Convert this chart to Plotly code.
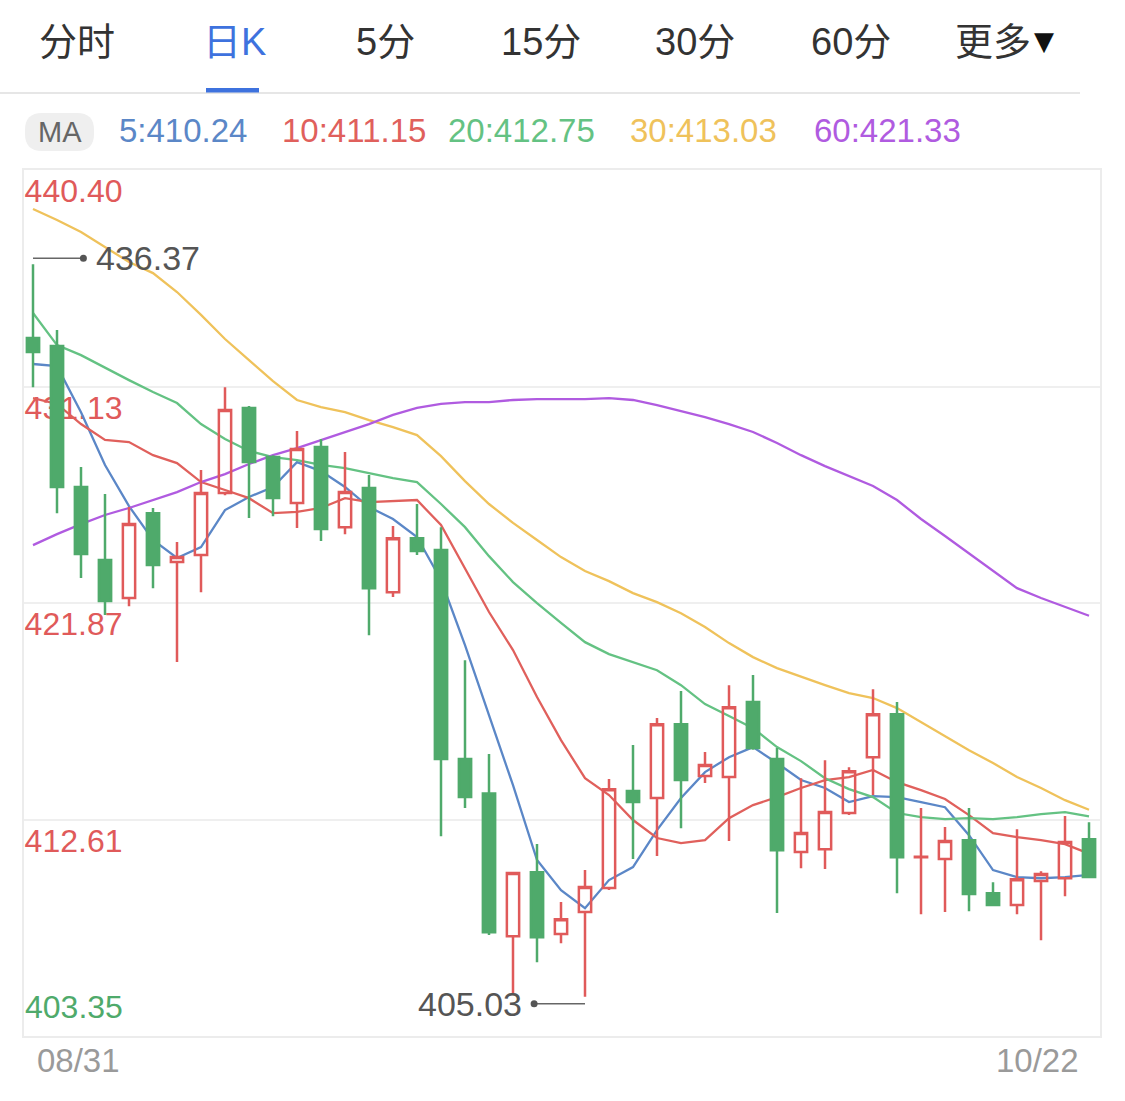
import plotly.graph_objects as go

# ---------------- data ----------------
opens = [433.21, 432.87, 426.84, 423.71, 422.09, 425.72, 423.63, 423.93, 426.58, 430.22,
         428.12, 426.15, 428.55, 425.12, 426.79, 422.34, 424.65, 424.14, 415.20, 413.72,
         407.62, 410.36, 407.71, 408.65, 409.68, 413.83, 413.53, 416.69, 414.47, 414.43,
         417.64, 415.20, 411.22, 411.34, 412.89, 415.28, 417.12, 411.00, 410.92, 411.73,
         409.46, 408.95, 409.98, 410.10, 411.77]
highs = [436.37, 433.55, 427.69, 426.54, 425.98, 425.94, 424.48, 427.56, 431.11, 430.30,
         428.20, 429.23, 428.89, 428.33, 427.35, 425.17, 426.11, 425.12, 419.43, 415.41,
         410.32, 411.56, 409.08, 410.45, 414.34, 415.80, 416.95, 418.11, 415.50, 418.36,
         418.79, 415.67, 414.38, 415.15, 414.85, 418.19, 417.64, 413.10, 412.29, 413.10,
         409.93, 412.20, 410.40, 412.76, 412.50]
lows = [431.11, 425.72, 422.94, 421.36, 421.74, 422.51, 419.35, 422.34, 426.49, 425.51,
        425.59, 425.08, 424.53, 424.82, 420.50, 422.13, 423.93, 411.90, 413.10, 407.67,
        405.18, 406.51, 407.32, 405.03, 409.60, 410.92, 411.05, 412.24, 414.17, 411.69,
        415.60, 408.61, 410.53, 410.49, 412.80, 413.66, 409.46, 408.56, 408.65, 408.69,
        408.90, 408.56, 407.45, 409.33, 410.10]
closes = [432.61, 426.84, 423.97, 421.96, 425.25, 423.50, 423.84, 426.58, 430.13, 427.91,
          426.37, 428.46, 425.04, 426.62, 422.51, 424.65, 424.10, 415.20, 413.57, 407.79,
          410.32, 407.58, 408.35, 409.72, 413.91, 413.36, 416.69, 414.30, 414.94, 417.42,
          415.67, 411.30, 412.03, 412.93, 414.68, 417.12, 411.00, 411.02, 411.69, 409.42,
          408.95, 410.06, 410.28, 411.65, 410.15]

ma5 = [432.10, 432.01, 430.04, 427.78, 426.02, 424.57, 423.80, 424.27, 425.85, 426.41,
       426.84, 427.90, 427.52, 426.84, 425.98, 425.47, 424.70, 422.86, 420.07, 417.08,
       414.08, 410.88, 409.59, 408.82, 410.02, 410.58, 412.16, 413.53, 414.64, 415.28,
       415.71, 415.03, 414.30, 413.96, 413.36, 413.61, 413.57, 413.36, 413.14, 411.94,
       410.45, 410.15, 410.10, 410.15, 410.24]
ma10 = [430.64, 430.39, 429.53, 428.85, 428.76, 428.20, 427.86, 427.05, 426.71, 426.36,
        425.72, 425.77, 425.94, 426.36, 426.19, 426.24, 426.28, 425.21, 423.37, 421.49,
        419.86, 417.85, 416.01, 414.38, 413.66, 412.59, 411.82, 411.60, 411.73, 412.67,
        413.23, 413.57, 413.96, 414.30, 414.43, 414.73, 414.21, 413.87, 413.49, 412.80,
        412.03, 411.86, 411.73, 411.56, 411.15]
ma20 = [434.28, 432.91, 432.48, 431.93, 431.41, 430.90, 430.43, 429.53, 428.89, 428.38,
        428.12, 427.99, 427.78, 427.65, 427.43, 427.22, 427.05, 426.11, 425.12, 423.88,
        422.77, 421.87, 421.02, 420.20, 419.69, 419.35, 419.00, 418.36, 417.55, 417.04,
        416.52, 415.71, 415.11, 414.38, 413.91, 413.57, 412.89, 412.71, 412.63, 412.67,
        412.63, 412.71, 412.84, 412.93, 412.75]
ma30 = [438.73, 438.26, 437.75, 437.11, 436.46, 435.99, 435.18, 434.20, 433.17, 432.27,
        431.37, 430.56, 430.26, 430.04, 429.70, 429.40, 429.06, 428.16, 427.09, 426.11,
        425.30, 424.57, 423.84, 423.24, 422.81, 422.30, 421.91, 421.44, 420.85, 420.16,
        419.56, 419.09, 418.71, 418.36, 418.02, 417.81, 417.38, 416.78, 416.18, 415.58,
        415.03, 414.43, 413.96, 413.44, 413.03]
ma60 = [424.35, 424.82, 425.25, 425.64, 425.94, 426.28, 426.62, 427.05, 427.39, 427.82,
        428.20, 428.50, 428.85, 429.19, 429.53, 429.92, 430.22, 430.39, 430.47, 430.47,
        430.56, 430.60, 430.60, 430.60, 430.64, 430.56, 430.34, 430.09, 429.83, 429.53,
        429.19, 428.72, 428.20, 427.73, 427.31, 426.88, 426.28, 425.47, 424.74, 424.01,
        423.24, 422.51, 422.09, 421.70, 421.33]

ma_periods = [5, 10, 20, 30, 60]
y_tick_values = [440.40, 431.13, 421.87, 412.61, 403.35]
date_labels = ["08/31", "10/22"]
tab_labels = ["分时", "日K", "5分", "15分", "30分", "60分", "更多"]

# ---------------- styles ----------------
RED = "#e05a5a"
GREEN = "#4faa6b"
BLUE_TAB = "#3e72de"
ma_series = [ma5, ma10, ma20, ma30, ma60]
ma_colors = ["#5b87c7", "#e0605c", "#64c283", "#efc25b", "#b05be0"]
FONT = "Liberation Sans, Noto Sans CJK SC, Arial, sans-serif"

W, H = 1125, 1101
PL, PR, PT, PB = 24, 1100, 170, 1036


def px(x):
    return (x - PL) / (PR - PL)


def py(y):
    return (PB - y) / (PB - PT)


n = len(closes)
assert all(len(a) == n for a in [opens, highs, lows] + ma_series)
xs = list(range(n))
x_range = [-0.375, n - 1 + 0.458]
y_range = [y_tick_values[-1], y_tick_values[0]]

fig = go.Figure()

for period, series, color in zip(ma_periods, ma_series, ma_colors):
    fig.add_trace(go.Scatter(x=xs, y=series, mode="lines",
                             line=dict(color=color, width=2.3),
                             hoverinfo="skip", showlegend=False,
                             xaxis="x", yaxis="y"))

fig.add_trace(go.Candlestick(
    x=xs, open=opens, high=highs, low=lows, close=closes,
    increasing=dict(line=dict(color=RED, width=2.5), fillcolor="rgba(255,255,255,0)"),
    decreasing=dict(line=dict(color=GREEN, width=2.5), fillcolor=GREEN),
    whiskerwidth=0, showlegend=False, hoverinfo="skip",
    xaxis="x2", yaxis="y2"))

annotations = []
shapes = []

# tabs
tab_centers = [77, 234, 386, 541, 695, 851, 993]
for lab, cx in zip(tab_labels, tab_centers):
    annotations.append(dict(xref="paper", yref="paper", x=px(cx), y=py(42),
                            text=lab, showarrow=False, xanchor="center", yanchor="middle",
                            font=dict(family=FONT, size=38,
                                      color=BLUE_TAB if lab == "日K" else "#333333")))
annotations.append(dict(xref="paper", yref="paper", x=px(1044), y=py(41), text="▼",
                        showarrow=False, xanchor="center", yanchor="middle",
                        font=dict(family="DejaVu Sans", size=26, color="#111111")))
shapes.append(dict(type="line", xref="paper", yref="paper", x0=px(0), x1=px(1080),
                   y0=py(93), y1=py(93), line=dict(color="#e6e6e6", width=2)))
shapes.append(dict(type="rect", xref="paper", yref="paper", x0=px(206), x1=px(259),
                   y0=py(88), y1=py(92.5), fillcolor=BLUE_TAB, line=dict(width=0)))

# MA pill
x0, x1, y0, y1, r = 25, 94, 113, 151, 17
pts = lambda a, b: f"{px(a):.5f},{py(b):.5f}"
path = (f"M {pts(x0 + r, y0)} L {pts(x1 - r, y0)} Q {pts(x1, y0)} {pts(x1, y0 + r)} "
        f"L {pts(x1, y1 - r)} Q {pts(x1, y1)} {pts(x1 - r, y1)} L {pts(x0 + r, y1)} "
        f"Q {pts(x0, y1)} {pts(x0, y1 - r)} L {pts(x0, y0 + r)} Q {pts(x0, y0)} {pts(x0 + r, y0)} Z")
shapes.append(dict(type="path", xref="paper", yref="paper", path=path,
                   fillcolor="#efefef", line=dict(width=0)))
annotations.append(dict(xref="paper", yref="paper", x=px(59.5), y=py(132), text="MA",
                        showarrow=False, xanchor="center", yanchor="middle",
                        font=dict(family=FONT, size=29, color="#666666")))
legend_lefts = [117, 280, 446, 628, 812]
for period, series, color, lx in zip(ma_periods, ma_series, ma_colors, legend_lefts):
    annotations.append(dict(xref="paper", yref="paper", x=px(lx), y=py(131),
                            text=f"{period}:{series[-1]:.2f}", showarrow=False,
                            xanchor="left", yanchor="middle",
                            font=dict(family=FONT, size=33, color=color)))

# bottom y label (green)
annotations.append(dict(xref="paper", yref="y", x=0, y=y_tick_values[-1], yshift=29,
                        text=f"{y_tick_values[-1]:.2f}", showarrow=False,
                        xanchor="left", yanchor="middle", xshift=-1,
                        font=dict(family=FONT, size=32, color=GREEN)))

# date labels
annotations.append(dict(xref="paper", yref="paper", x=px(35), y=py(1060), text=date_labels[0],
                        showarrow=False, xanchor="left", yanchor="middle",
                        font=dict(family=FONT, size=33, color="#9a9a9a")))
annotations.append(dict(xref="paper", yref="paper", x=px(1081), y=py(1060), text=date_labels[1],
                        showarrow=False, xanchor="right", yanchor="middle",
                        font=dict(family=FONT, size=33, color="#9a9a9a")))

# max / min markers
i_max = highs.index(max(highs))
i_min = lows.index(min(lows))
vmax, vmin = highs[i_max], lows[i_min]
dmax = i_max + 2.1
dmin = i_min - 2.12
shapes.append(dict(type="line", xref="x", yref="y", ysizemode="pixel", yanchor=vmax,
                   x0=i_max, x1=dmax, y0=6, y1=6, line=dict(color="#666666", width=1.5)))
shapes.append(dict(type="circle", xref="x", yref="y", xsizemode="pixel", ysizemode="pixel",
                   xanchor=dmax, yanchor=vmax, x0=-3.5, x1=3.5, y0=2.5, y1=9.5,
                   fillcolor="#555555", line=dict(width=0)))
annotations.append(dict(xref="x", yref="y", x=dmax, y=vmax, xshift=11, yshift=6,
                        text=f"{vmax:.2f}", showarrow=False, xanchor="left", yanchor="middle",
                        font=dict(family=FONT, size=34, color="#555555")))
shapes.append(dict(type="line", xref="x", yref="y", ysizemode="pixel", yanchor=vmin,
                   x0=dmin, x1=i_min, y0=-7, y1=-7, line=dict(color="#666666", width=1.5)))
shapes.append(dict(type="circle", xref="x", yref="y", xsizemode="pixel", ysizemode="pixel",
                   xanchor=dmin, yanchor=vmin, x0=-3.5, x1=3.5, y0=-10.5, y1=-3.5,
                   fillcolor="#555555", line=dict(width=0)))
annotations.append(dict(xref="x", yref="y", x=dmin, y=vmin, xshift=-10, yshift=-7,
                        text=f"{vmin:.2f}", showarrow=False, xanchor="right", yanchor="middle",
                        font=dict(family=FONT, size=34, color="#555555")))

fig.update_layout(
    width=W, height=H,
    margin=dict(l=PL, r=W - PR, t=PT, b=H - PB, pad=0),
    paper_bgcolor="white", plot_bgcolor="white",
    showlegend=False, hovermode=False,
    boxgap=0.27,
    font=dict(family=FONT),
    xaxis=dict(range=x_range, showgrid=False, zeroline=False, showticklabels=False,
               ticks="", showline=True, mirror=True, linecolor="#ececec", linewidth=2,
               fixedrange=True, rangeslider=dict(visible=False)),
    xaxis2=dict(range=x_range, overlaying="x", visible=False, fixedrange=True,
                rangeslider=dict(visible=False)),
    yaxis=dict(range=y_range, tickvals=y_tick_values[:4],
               ticktext=[f"{v:.2f}" for v in y_tick_values[:4]],
               tickfont=dict(family=FONT, size=32, color=RED),
               ticklabelposition="inside", ticklabelshift=21, ticklabelstandoff=4,
               ticklabeloverflow="allow",
               ticks="", showgrid=True, gridcolor="#efefef", gridwidth=2, zeroline=False,
               showline=True, mirror=True, linecolor="#ececec", linewidth=2,
               layer="below traces", fixedrange=True),
    yaxis2=dict(range=y_range, overlaying="y", visible=False, fixedrange=True),
    annotations=annotations, shapes=shapes,
)

fig.write_html("out.html", config=dict(displayModeBar=False, staticPlot=True),
               post_script="document.body.style.margin='0';")
